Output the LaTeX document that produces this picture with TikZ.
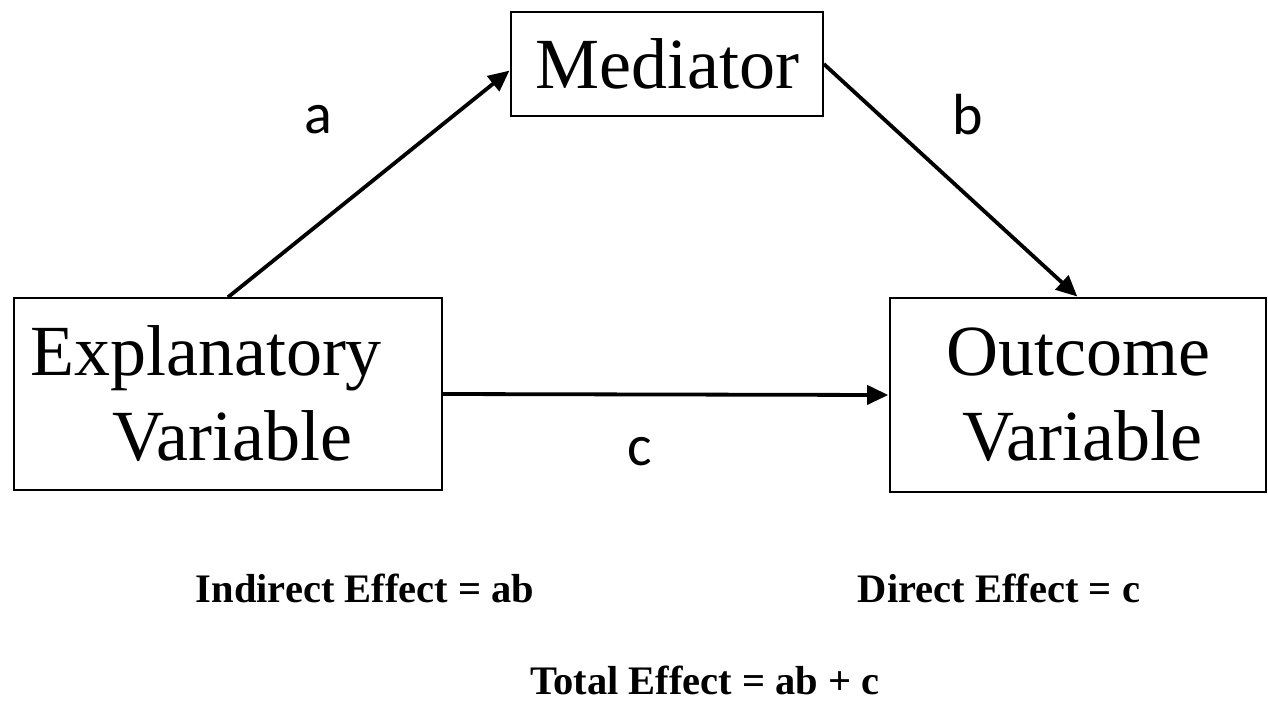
\documentclass[tikz,border=0pt]{standalone}
\usepackage{fontspec}
\setmainfont{Liberation Serif}
\newfontfamily\lblfont{Carlito}
\usetikzlibrary{arrows.meta}

\tikzset{every picture/.style={line width=0.75pt}}
\tikzset{
  varbox/.style={draw, line width=1.6, inner sep=0pt, align=center, font=\fontsize{72}{85}\selectfont},
  effarrow/.style={line width=3.8, -{Triangle[length=21,width=19]}, shorten >=1},
  pathlbl/.style={inner sep=0pt, anchor=base, font=\lblfont\fontsize{58}{60}\selectfont},
  efftext/.style={inner sep=0pt, anchor=base, font=\bfseries\fontsize{40.5}{44}\selectfont}
}

\begin{document}
\begin{tikzpicture}[x=1pt,y=1pt,yscale=-1,xscale=1]
	%set diagram to 1268 x 705
	\useasboundingbox (0,0) rectangle (1268,705);

	%Shape: Rectangle [id:mediator]
	\node [varbox, minimum width=312, minimum height=104] (med) at (667,64) {Mediator};
	%Shape: Rectangle [id:explanatory]
	\node [varbox, minimum width=428, minimum height=192] (expl) at (228,394) {Explanatory\kern44pt\\\kern8pt Variable};
	%Shape: Rectangle [id:outcome]
	\node [varbox, minimum width=376, minimum height=194] (out) at (1078,395) {Outcome\\\kern8pt Variable};

	%Straight Lines [id:path_a]
	\draw [effarrow] (expl.north) -- ([yshift=6]med.west);
	%Straight Lines [id:path_b]
	\draw [effarrow] (med.east) -- (out.north);
	%Straight Lines [id:path_c]
	\draw [effarrow] (expl.east) -- (out.west);

	% Text Node
	\node [pathlbl] (lbla) at (318,133) {a};
	% Text Node
	\node [pathlbl] (lblb) at (968,134) {b};
	% Text Node
	\node [pathlbl] (lblc) at (640,465) {c};

	% Text Node
	\node [efftext] (indirect) at (365,602) {Indirect Effect = ab};
	% Text Node
	\node [efftext] (direct) at (999,602) {Direct Effect = c};
	% Text Node
	\node [efftext] (total) at (705,694) {Total Effect = ab + c};

\end{tikzpicture}
\end{document}
